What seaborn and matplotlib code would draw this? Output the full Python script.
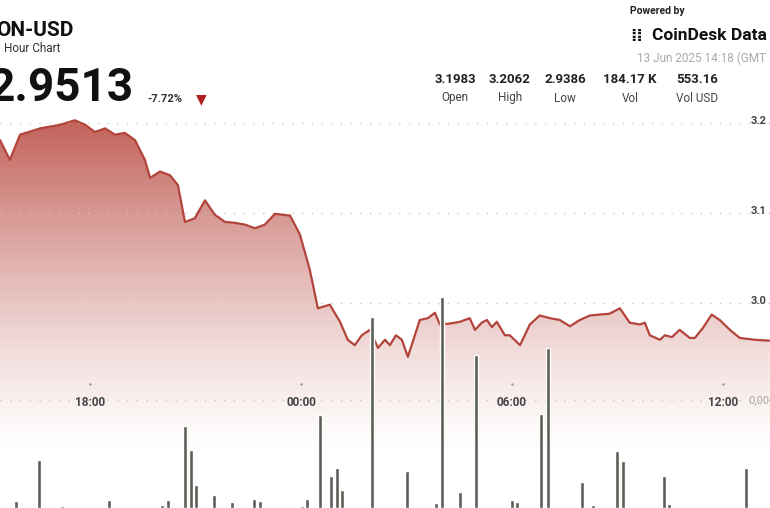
import numpy as np
import pandas as pd
import matplotlib
matplotlib.use("Agg")
import matplotlib.pyplot as plt
import seaborn as sns

# hours relative to 00:00 (13 Jun), price in USD
price_hours = [-8.56, -8.28, -7.99, -7.42, -6.85, -6.43, -6.14, -5.86, -5.57, -5.29, -5.01, -4.72,
               -4.44, -4.29, -4.01, -3.73, -3.50, -3.30, -3.02, -2.73, -2.45, -2.16, -1.88, -1.59,
               -1.31, -1.03, -0.74, -0.31, -0.03, 0.25, 0.48, 0.82, 1.11, 1.33, 1.53, 1.73, 1.96,
               2.19, 2.39, 2.53, 2.70, 2.87, 3.04, 3.24, 3.38, 3.61, 3.81, 3.95, 4.23, 4.52, 4.80,
               4.95, 5.14, 5.29, 5.43, 5.57, 5.80, 5.94, 6.23, 6.51, 6.79, 7.08, 7.36, 7.65, 7.93,
               8.22, 8.50, 8.78, 9.07, 9.35, 9.64, 9.78, 9.92, 10.21, 10.35, 10.55, 10.77, 11.06,
               11.20, 11.43, 11.68, 11.91, 12.20, 12.48, 12.91, 13.33]
prices = [3.181, 3.159, 3.187, 3.194, 3.198, 3.203, 3.198, 3.190, 3.194, 3.187, 3.189, 3.181,
          3.159, 3.139, 3.146, 3.142, 3.131, 3.090, 3.094, 3.114, 3.098, 3.090, 3.089, 3.087,
          3.083, 3.087, 3.099, 3.097, 3.076, 3.037, 2.994, 2.998, 2.979, 2.959, 2.953, 2.964, 2.970,
          2.950, 2.959, 2.953, 2.964, 2.959, 2.940, 2.964, 2.981, 2.983, 2.989, 2.976, 2.977, 2.979, 2.983,
          2.970, 2.978, 2.981, 2.973, 2.979, 2.964, 2.964, 2.953, 2.976, 2.986, 2.983, 2.981, 2.974, 2.981,
          2.986, 2.987, 2.988, 2.994, 2.978, 2.976, 2.978, 2.964, 2.959, 2.964, 2.962, 2.970, 2.961,
          2.961, 2.972, 2.987, 2.981, 2.970, 2.961, 2.959, 2.958]

vol_hours = [-8.28, -8.11, -7.45, -6.80, -5.46, -3.95, -3.78, -3.64, -3.30, -3.13, -2.99, -2.48,
             -1.96, -1.34, -1.17, 0.03, 0.17, 0.54, 0.71, 0.85, 1.02, 1.16, 2.02, 3.01, 3.84, 4.01,
             4.52, 4.97, 6.00, 6.14, 6.82, 7.02, 7.99, 8.30, 8.98, 9.15, 10.01, 10.32, 10.46, 11.97,
             12.45, 12.65]
volumes = [93, 650, 4440, 185, 740, 280, 740, 93, 7590, 5370, 2130, 1200,
           560, 830, 650, 185, 830, 8610, 93, 2960, 3700, 1670, 17690, 3430, 460, 19540,
           1480, 14170, 740, 560, 8700, 14820, 2410, 280, 5280, 4350, 93, 2960, 370, 93,
           93, 3700]

time_ticks = [-6, 0, 6, 12]
time_labels = ["18:00", "00:00", "06:00", "12:00"]
price_ticks = [3.2, 3.1, 3.0]

stats_values = ["3.1983", "3.2062", "2.9386", "184.17 K", "553.16"]
stats_names = ["Open", "High", "Low", "Vol", "Vol USD"]
stats_x = [455, 510, 565, 630, 697]

W, H = 770, 508
x0, x1 = -8.56, 13.34
p_lo, p_hi = 2.772, 3.3367

sns.set_style("white")
plt.rcParams['font.family'] = ['Roboto', 'DejaVu Sans']
fig = plt.figure(figsize=(W / 100, H / 100), dpi=100)
ax = fig.add_axes([0, 0, 1, 1])
ax.set_xlim(x0, x1)
ax.set_ylim(p_lo, p_hi)
ax.axis("off")

df = pd.DataFrame({"hour": price_hours, "price": prices})

# gradient fill under the line
grad = np.linspace(1, 0, 256).reshape(-1, 1) ** 1.3
cmap = matplotlib.colors.LinearSegmentedColormap.from_list("g", ["#ffffff", "#c2625a"])
top_p = max(prices)
bottom_p = 2.83
img = ax.imshow(grad, extent=[x0, x1, bottom_p, top_p], aspect="auto", cmap=cmap,
                vmin=0, vmax=1, origin="upper", zorder=1)
poly = ax.fill_between(df["hour"], df["price"], p_lo, color="none")
path = poly.get_paths()[0]
img.set_clip_path(path, transform=ax.transData)
ax.fill_between([x0, x1], p_lo, bottom_p, color="white", zorder=0)

# dotted grid
for p in price_ticks:
    ax.axhline(p, color="#c8c8c8", ls=(0, (1, 6)), lw=1, zorder=2)
    ax.text(x1 - 0.55, p + 0.002, f"{p:.1f}", fontsize=8, fontweight="bold",
            color="#444444", va="center", ha="left", zorder=5)

sns.lineplot(data=df, x="hour", y="price", ax=ax, color="#b3443b", lw=1.6, zorder=4)
ax.set_xlabel("")
ax.set_ylabel("")

# volume axis
axv = ax.twinx()
axv.set_ylim(0, 47040)
axv.axis("off")
axv.bar(vol_hours, volumes, width=0.11, color="#5b5f55", zorder=3)
axv.axhline(10000, color="#c8c8c8", ls=(0, (1, 6)), lw=1, zorder=2)
axv.text(x1 - 0.62, 10000, "0,00", fontsize=8, color="#aaaaaa", va="center", ha="left")
for t, lab in zip(time_ticks, time_labels):
    axv.plot([t], [11500], marker=".", ms=1.5, color="#999999")
    axv.text(t, 9800, lab, fontsize=8.5, fontweight="bold", color="#444444",
             ha="center", va="center", zorder=5)

# header
def px(x, y):
    return x / W, 1 - y / H

fig.text(*px(-4, 30), "ON-USD", fontsize=15, fontweight="bold", color="#111111", va="center")
fig.text(*px(4, 48), "Hour Chart", fontsize=8.5, color="#333333", va="center")
fig.text(*px(-12, 88), "2.9513", fontsize=33, fontweight="bold", color="#111111", va="center")
fig.text(*px(147, 99), "-7.72%", fontsize=8, fontweight="bold", color="#333333", va="center")
fig.text(*px(196, 99), "▼", fontsize=10, color="#b01e1e", va="center", family="DejaVu Sans")
fig.text(*px(630, 11), "Powered by", fontsize=7.5, fontweight="bold", color="#222222", va="center")
fig.text(*px(630, 36), "⁞⁞", fontsize=12, fontweight="bold", color="#111111", va="center",
         family="DejaVu Sans")
fig.text(*px(652, 36), "CoinDesk Data", fontsize=12.5, fontweight="bold", color="#111111", va="center")
fig.text(*px(637, 58), "13 Jun 2025 14:18 (GMT", fontsize=8.5, color="#aaaaaa", va="center")
for xs, v, n in zip(stats_x, stats_values, stats_names):
    fig.text(*px(xs, 80), v, fontsize=9.5, fontweight="bold", color="#222222", va="center", ha="center")
    fig.text(*px(xs, 98), n, fontsize=8.5, color="#444444", va="center", ha="center")

fig.savefig("out.png", dpi=100)
